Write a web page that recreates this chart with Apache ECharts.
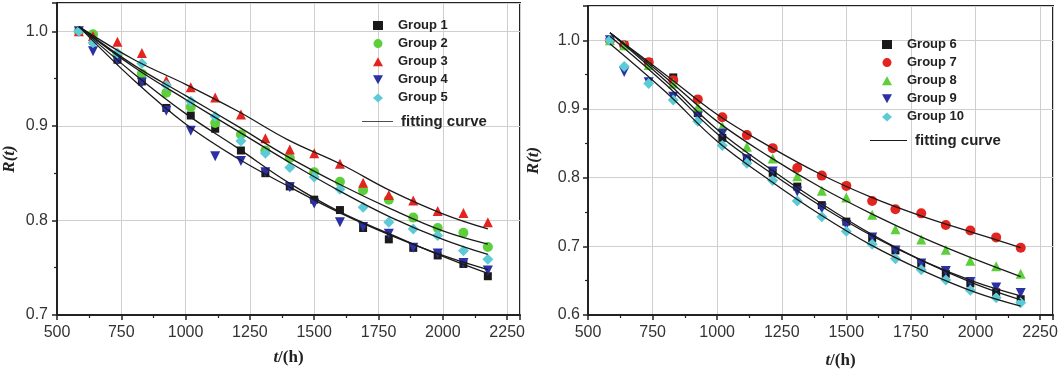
<!DOCTYPE html>
<html><head><meta charset="utf-8">
<script src="https://cdn.jsdelivr.net/npm/echarts@6/dist/echarts.min.js"></script>
<style>html,body{margin:0;padding:0;background:#fff}#c{width:1064px;height:374px}</style>
</head><body><div id="c"></div><script>
// measurement times (h)
const times = [585, 640, 735, 830, 925, 1020, 1115, 1215, 1310, 1405, 1500, 1600, 1690, 1790, 1885, 1980, 2080, 2175];
// times at which fitting curves were read
const fitTimes = [585, 800, 1000, 1200, 1400, 1600, 1800, 2000, 2175];

// left panel groups
const group1 = [1.000, 0.990, 0.970, 0.947, 0.919, 0.911, 0.897, 0.874, 0.850, 0.836, 0.822, 0.811, 0.792, 0.780, 0.771, 0.763, 0.754, 0.741];
const group2 = [1.000, 0.997, 0.975, 0.955, 0.935, 0.920, 0.903, 0.891, 0.874, 0.866, 0.851, 0.841, 0.832, 0.822, 0.803, 0.792, 0.787, 0.772];
const group3 = [1.000, 0.995, 0.989, 0.977, 0.948, 0.941, 0.930, 0.912, 0.887, 0.875, 0.871, 0.860, 0.840, 0.827, 0.821, 0.810, 0.808, 0.798];
const group4 = [1.000, 0.979, 0.969, 0.946, 0.916, 0.895, 0.868, 0.863, 0.851, 0.835, 0.818, 0.798, 0.793, 0.786, 0.771, 0.765, 0.755, 0.747];
const group5 = [1.000, 0.988, 0.977, 0.966, 0.943, 0.926, 0.910, 0.884, 0.871, 0.856, 0.846, 0.833, 0.814, 0.798, 0.791, 0.784, 0.768, 0.759];
// left panel fitting curves
const fit1 = [1.005, 0.955, 0.913, 0.877, 0.840, 0.809, 0.785, 0.762, 0.744];
const fit2 = [1.005, 0.964, 0.932, 0.900, 0.867, 0.838, 0.812, 0.789, 0.775];
const fit3 = [1.005, 0.970, 0.944, 0.916, 0.885, 0.860, 0.831, 0.807, 0.791];
const fit4 = [1.005, 0.948, 0.902, 0.866, 0.836, 0.808, 0.784, 0.763, 0.748];
const fit5 = [1.005, 0.962, 0.928, 0.895, 0.862, 0.831, 0.803, 0.780, 0.764];

// right panel groups
const group6  = [1.000, 0.993, 0.968, 0.946, 0.894, 0.858, 0.825, 0.807, 0.787, 0.760, 0.736, 0.712, 0.694, 0.675, 0.660, 0.646, 0.633, 0.623];
const group7  = [1.000, 0.993, 0.968, 0.942, 0.914, 0.888, 0.862, 0.843, 0.814, 0.803, 0.788, 0.766, 0.754, 0.748, 0.731, 0.723, 0.713, 0.698];
const group8  = [1.000, 0.993, 0.964, 0.937, 0.903, 0.875, 0.845, 0.828, 0.802, 0.781, 0.771, 0.746, 0.725, 0.710, 0.695, 0.679, 0.671, 0.660];
const group9  = [1.000, 0.954, 0.939, 0.918, 0.889, 0.864, 0.827, 0.809, 0.780, 0.755, 0.731, 0.713, 0.694, 0.675, 0.664, 0.648, 0.640, 0.632];
const group10 = [1.000, 0.962, 0.937, 0.913, 0.882, 0.847, 0.821, 0.796, 0.766, 0.743, 0.722, 0.703, 0.682, 0.666, 0.651, 0.636, 0.625, 0.618];
// right panel fitting curves
const fit6  = [1.011, 0.941, 0.870, 0.814, 0.763, 0.717, 0.678, 0.645, 0.622];
const fit7  = [1.011, 0.950, 0.892, 0.846, 0.805, 0.771, 0.743, 0.719, 0.698];
const fit8  = [1.011, 0.946, 0.882, 0.831, 0.786, 0.747, 0.712, 0.681, 0.656];
const fit9  = [1.006, 0.936, 0.864, 0.809, 0.759, 0.715, 0.678, 0.648, 0.628];
const fit10 = [0.995, 0.925, 0.853, 0.797, 0.746, 0.701, 0.664, 0.633, 0.613];

const xTicks = {min: 500, max: 2300, interval: 250};

const DOWN_TRI = 'path://M0,0L10,0L5,9Z';
const C = {black:'#1a1a1a', green:'#5ccf3a', red:'#e3241f', blue:'#2b30a6', cyan:'#5ccbd6'};

function scatter(name, vals, symbol, color, idx, size) {
  return {
    name, type: 'scatter', xAxisIndex: idx, yAxisIndex: idx,
    symbol, symbolSize: size || 9, itemStyle: {color, opacity: 1},
    data: times.map((t, i) => [t, vals[i]]), z: 3
  };
}
function fit(vals, idx) {
  return {
    name: 'fitting curve', type: 'line', xAxisIndex: idx, yAxisIndex: idx,
    smooth: 0.4, symbol: 'none', showSymbol: false, color: '#1a1a1a',
    lineStyle: {color: '#1a1a1a', width: 1.3},
    data: fitTimes.map((t, i) => [t, vals[i]]), z: 4
  };
}

const labelFont = {fontFamily: 'Liberation Sans, Arial, sans-serif', fontSize: 16, color: '#333'};
function xAxis(gi, namePad, gap) {
  return {
    type: 'value', gridIndex: gi, min: xTicks.min, max: xTicks.max, interval: xTicks.interval,
    axisLine: {lineStyle: {color: '#222', width: 2}},
    axisTick: {length: 5, lineStyle: {color: '#222', width: 1.5}},
    minorTick: {show: true, splitNumber: 2, length: 3, lineStyle: {color: '#222', width: 1.2}},
    splitLine: {show: true, lineStyle: {color: '#cfcfcf', width: 1}},
    axisLabel: Object.assign({margin: 10, formatter: v => (v > 2260 ? '' : String(v))}, labelFont),
    name: '{i|t}{b|/(h)}', nameLocation: 'middle', nameGap: gap,
    nameTextStyle: {padding: [0, 0, 0, namePad], rich: {
      i: {fontFamily: 'Liberation Serif, serif', fontStyle: 'italic', fontWeight: 'bold', fontSize: 17, color: '#222'},
      b: {fontFamily: 'Liberation Serif, serif', fontWeight: 'bold', fontSize: 17, color: '#222'}}}
  };
}
function yAxis(gi, min, max, gap, labelMargin) {
  return {
    type: 'value', gridIndex: gi, min, max, interval: 0.1,
    axisLine: {lineStyle: {color: '#222', width: 2}},
    axisTick: {length: 5, lineStyle: {color: '#222', width: 1.5}},
    minorTick: {show: true, splitNumber: 2, length: 3, lineStyle: {color: '#222', width: 1.2}},
    splitLine: {show: true, lineStyle: {color: '#cfcfcf', width: 1}},
    axisLabel: Object.assign({margin: labelMargin, formatter: v => (v > 1.01 ? '' : v.toFixed(1))}, labelFont),
    name: '{i|R(t)}', nameLocation: 'middle', nameGap: gap, nameRotate: 90,
    nameTextStyle: {rich: {
      i: {fontFamily: 'Liberation Serif, serif', fontStyle: 'italic', fontWeight: 'bold', fontSize: 17, color: '#222'}}}
  };
}
const legText = {fontFamily: 'Liberation Sans, Arial, sans-serif', fontWeight: 'bold', fontSize: 13, color: '#222', padding: [0, 0, 0, 10]};
const fitText = {fontFamily: 'Liberation Sans, Arial, sans-serif', fontWeight: 'bold', fontSize: 15, color: '#222', padding: [0, 0, 0, 3]};
const fitIcon = 'path://M0,0L40,0L40,1L0,1Z';

const option = {
  animation: false,
  backgroundColor: '#fff',
  grid: [
    {left: 55, top: 3, width: 465, height: 312, show: true, borderColor: '#222', borderWidth: 2, containLabel: false},
    {left: 588, top: 6, width: 465, height: 314, show: true, borderColor: '#222', borderWidth: 2, containLabel: false}
  ],
  xAxis: [xAxis(0, 0, 34), xAxis(1, 40, 37)],
  yAxis: [yAxis(0, 0.7, 1.03, 39, 9), yAxis(1, 0.6, 1.05, 46, 8)],
  legend: [
    {orient: 'vertical', left: 373, top: 19, itemWidth: 10, itemHeight: 9, itemGap: 5.1, padding: 0,
     textStyle: legText, data: ['Group 1', 'Group 2', 'Group 3', 'Group 4', 'Group 5']},
    {orient: 'vertical', left: 362, top: 114, itemWidth: 31, itemHeight: 1.5, padding: 0,
     textStyle: fitText, data: [{name: 'fitting curve', icon: fitIcon, itemStyle: {color: '#1a1a1a'}}]},
    {orient: 'vertical', left: 882, top: 38, itemWidth: 10, itemHeight: 9, itemGap: 5.1, padding: 0,
     textStyle: legText, data: ['Group 6', 'Group 7', 'Group 8', 'Group 9', 'Group 10']},
    {orient: 'vertical', left: 870, top: 133, itemWidth: 37, itemHeight: 1.5, padding: 0,
     textStyle: fitText, data: [{name: 'fitting curve', icon: fitIcon, itemStyle: {color: '#1a1a1a'}}]}
  ],
  series: [
    scatter('Group 1', group1, 'rect', C.black, 0, 8),
    scatter('Group 2', group2, 'circle', C.green, 0, 10),
    scatter('Group 3', group3, 'triangle', C.red, 0, 10),
    scatter('Group 4', group4, DOWN_TRI, C.blue, 0, 10),
    scatter('Group 5', group5, 'diamond', C.cyan, 0, 11),
    fit(fit1, 0), fit(fit2, 0), fit(fit3, 0), fit(fit4, 0), fit(fit5, 0),
    scatter('Group 6', group6, 'rect', C.black, 1, 8),
    scatter('Group 7', group7, 'circle', C.red, 1, 10),
    scatter('Group 8', group8, 'triangle', C.green, 1, 10),
    scatter('Group 9', group9, DOWN_TRI, C.blue, 1, 10),
    scatter('Group 10', group10, 'diamond', C.cyan, 1, 11),
    fit(fit6, 1), fit(fit7, 1), fit(fit8, 1), fit(fit9, 1), fit(fit10, 1)
  ]
};
const chart = echarts.init(document.getElementById('c'), null, {renderer: 'canvas'});
chart.setOption(option);
</script></body></html>
